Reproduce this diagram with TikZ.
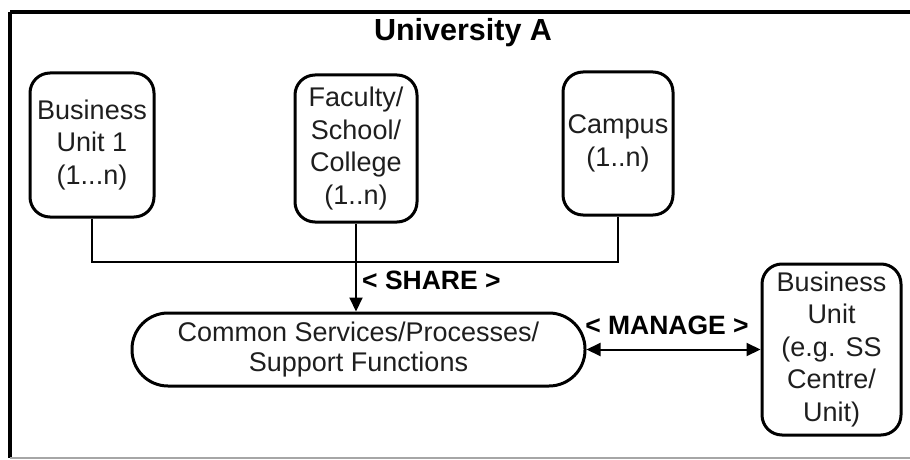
\documentclass[tikz,border=0pt]{standalone}
\usepackage{fontspec}
\setmainfont{Liberation Sans}
\usetikzlibrary{arrows.meta}
\definecolor{ink}{HTML}{1E1E1E}
\begin{document}
\begin{tikzpicture}[x=1pt,y=-1pt,
  unitbox/.style={draw=black, line width=3pt, rounded corners=20pt,
    align=center, inner sep=0pt, text=ink,
    font=\fontsize{27}{32.5}\selectfont},
  pillbox/.style={unitbox, rounded corners=36pt,
    font=\fontsize{27}{29.5}\selectfont},
  link/.style={line width=2pt, draw=black},
  tip/.style={-{Triangle[length=14pt,width=13pt]}},
  bothtips/.style={{Triangle[length=14pt,width=13pt]}-{Triangle[length=14pt,width=13pt]}},
  tag/.style={font=\fontsize{26.5}{30}\bfseries\selectfont, text=black, inner sep=0pt}
]
\useasboundingbox (0,0) rectangle (910,460);
\begin{scope}
\clip (0,0) rectangle (910,460);
% outer frame of the university
\draw[line width=3.5pt] (10,12) -- (940,12);
\draw[line width=3.5pt] (10,12) -- (10,458);
\draw[line width=2pt, gray!70] (10,458) -- (940,458);
\end{scope}

\node[tag, font=\fontsize{30.5}{34}\bfseries\selectfont] (title) at (463,33) {University A};

% organisational units
\node[unitbox, minimum width=124pt, minimum height=144pt] (bu) at (92,145)
  {Business\\Unit 1\\(1...n)};
\node[unitbox, minimum width=122pt, minimum height=147pt] (fac) at (356,148.5)
  {Faculty/\\School/\\College\\(1..n)};
\node[unitbox, minimum width=110pt, minimum height=143pt] (campus) at (618,143.5)
  {Campus\\(1..n)};

% shared services
\node[pillbox, minimum width=453pt, minimum height=73pt] (common) at (358.5,349.5)
  {Common Services/Processes/\\Support Functions};
\node[unitbox, minimum width=139pt, minimum height=171pt] (ssc) at (831.5,349.5)
  {Business\\Unit\\(e.g. SS\\Centre/\\Unit)};

% connectors
\coordinate (busL) at (bu.south |- 0,262);
\coordinate (busR) at (campus.south |- 0,262);
\draw[link] (bu.south) -- (busL) -- (busR) -- (campus.south);
\draw[link, tip] (fac.south) -- (fac.south |- common.north);
\draw[link, bothtips] (common.east) -- (ssc.west);

% connector labels
\node[tag, anchor=west] (share) at (362,280) {< SHARE >};
\node[tag] (manage) at (667,325) {< MANAGE >};
\end{tikzpicture}
\end{document}
